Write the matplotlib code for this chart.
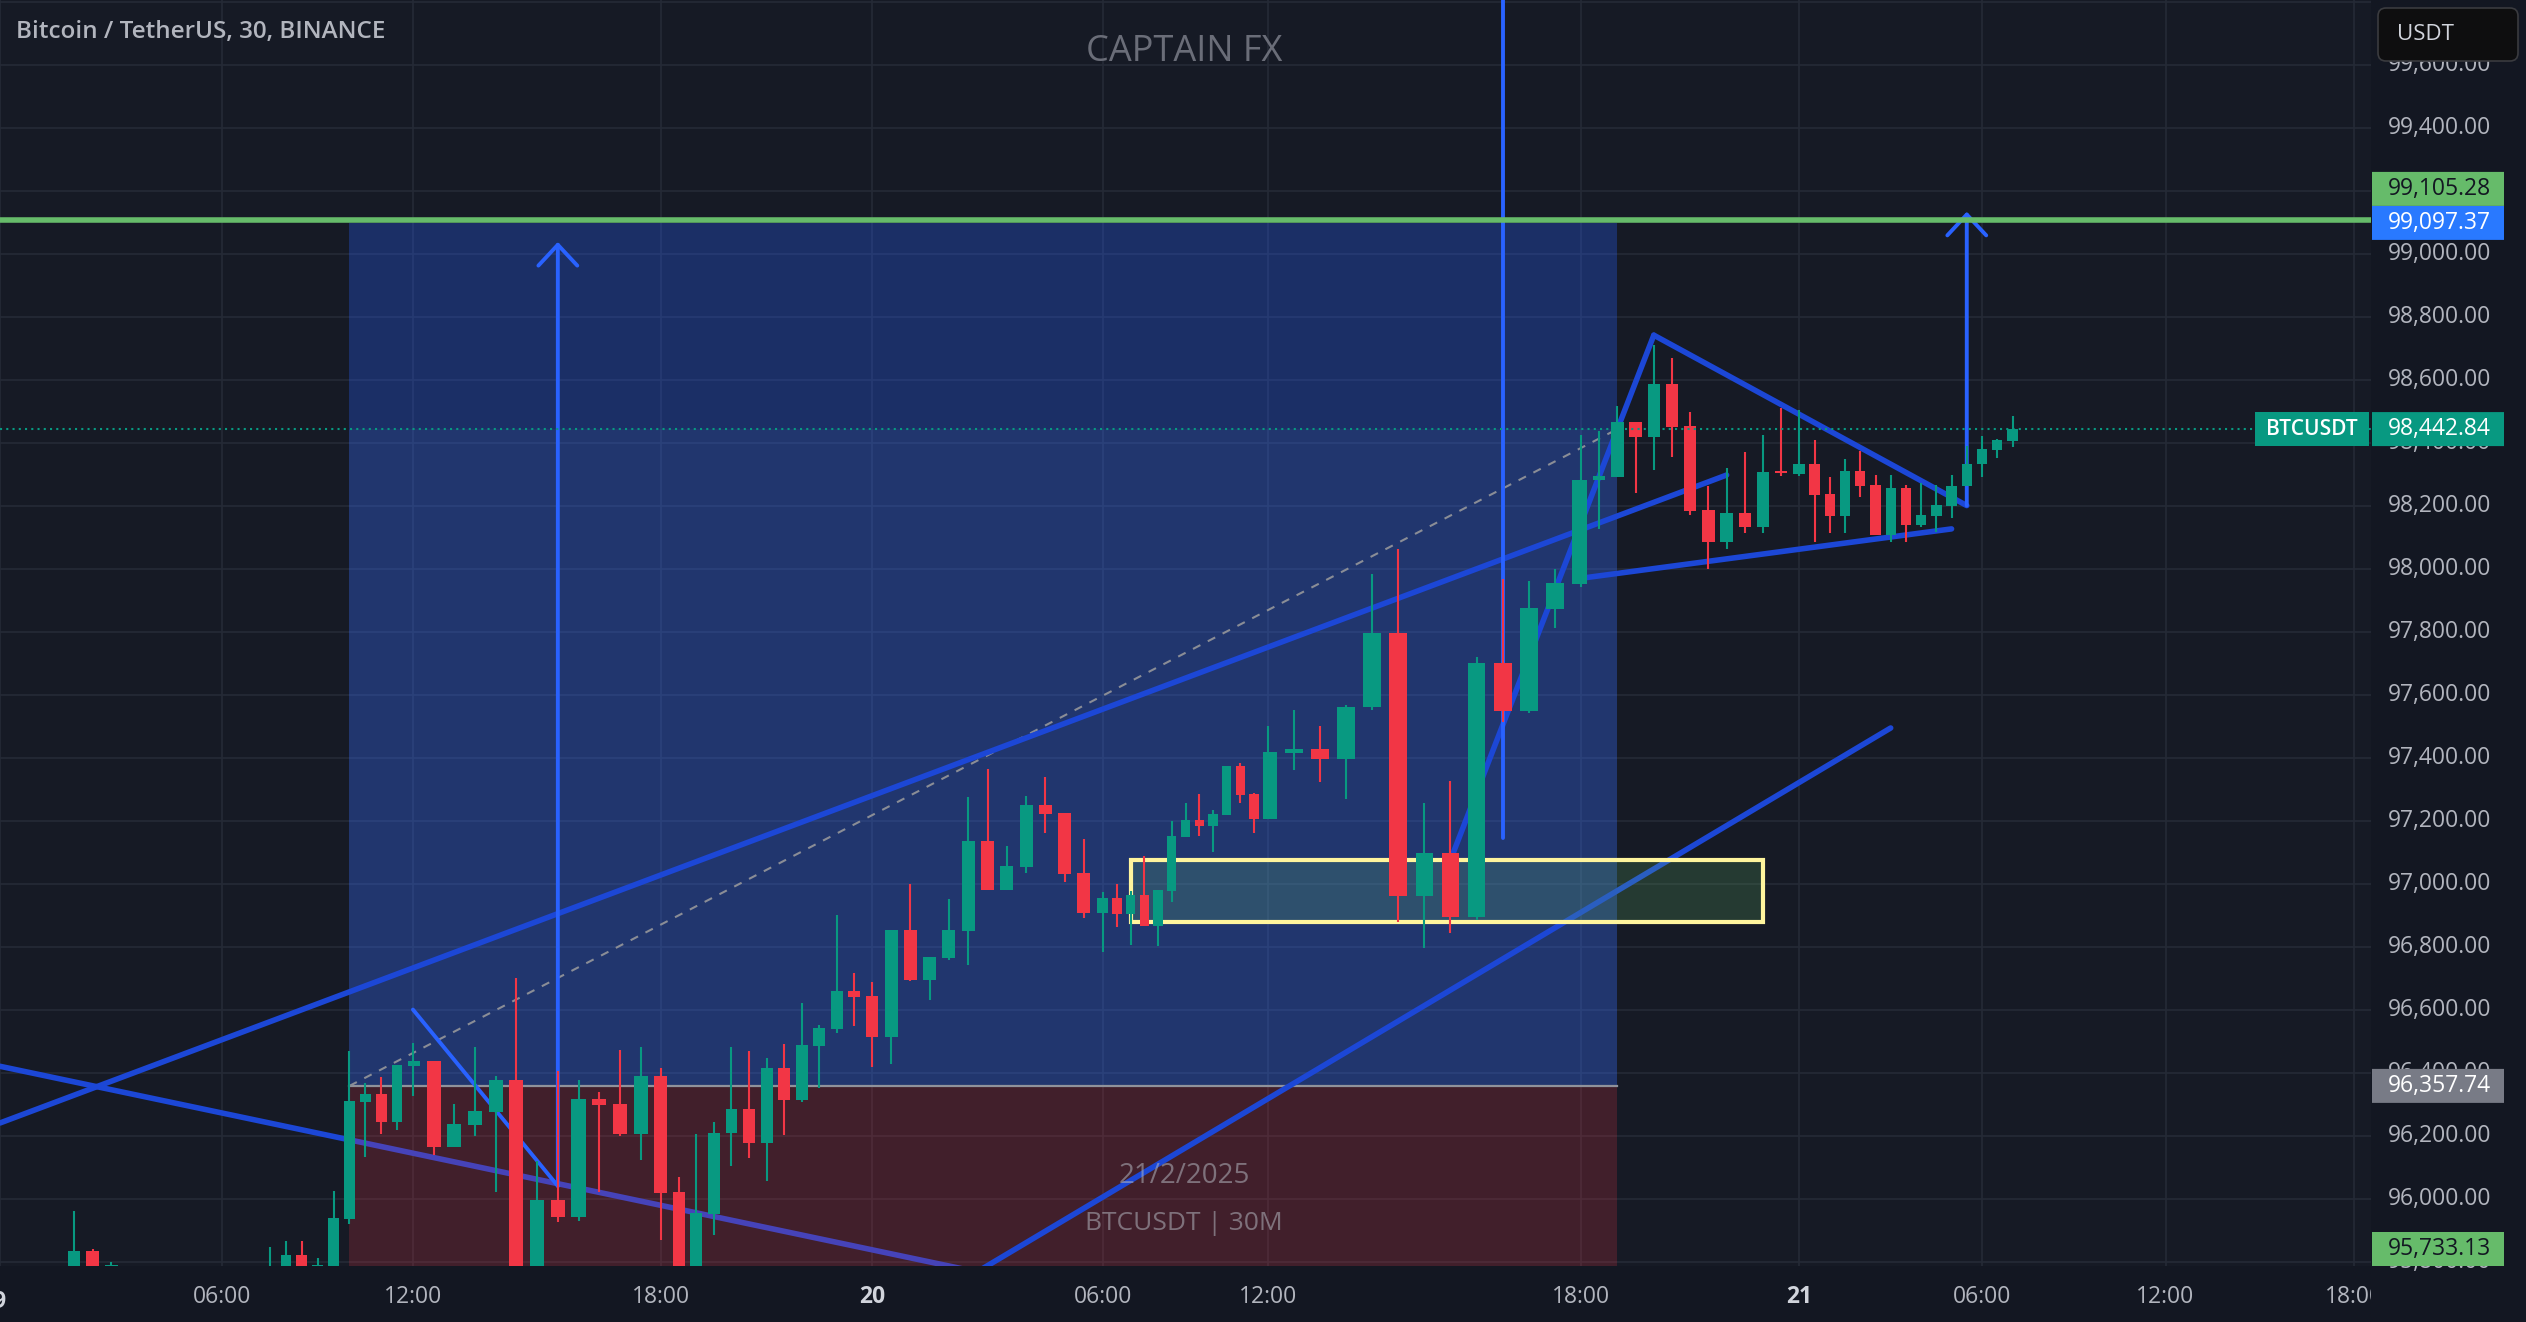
import numpy as np
import matplotlib
matplotlib.use("Agg")
import matplotlib.pyplot as plt
from matplotlib.patches import Rectangle, FancyBboxPatch
from matplotlib.transforms import IdentityTransform, blended_transform_factory

plt.rcParams['font.family'] = ['Open Sans', 'DejaVu Sans']

# ---------------- data (hours since 2025-02-19 00:00, 30m candles) ----------------
times = [2.0, 2.5, 3.0, 7.5, 8.0, 8.5, 9.0, 9.5, 10.0, 10.5, 11.0, 11.5, 12.0, 12.5, 13.0,
         13.5, 14.0, 14.5, 15.0, 15.5, 16.0, 16.5, 17.0, 17.5, 18.0, 18.5, 19.0, 19.5, 20.0,
         20.5, 21.0, 21.5, 22.0, 22.5, 23.0, 23.5, 24.0, 24.5, 25.0, 25.5, 26.0, 26.5, 27.0,
         27.5, 28.0, 28.5, 29.0, 29.5, 30.0, 30.5, 31.0, 31.5, 32.0, 32.5, 33.0, 33.5, 34.0,
         34.5, 35.0, 35.5, 36.0, 36.5, 37.0, 37.5, 38.0, 38.5, 39.0, 39.5, 40.0, 40.5, 41.0,
         41.5, 42.0, 42.5, 43.0, 43.5, 44.0, 44.5, 45.0, 45.5, 46.0, 46.5, 47.0, 47.5, 48.0,
         48.5, 49.0, 49.5, 50.0, 50.5, 51.0, 51.5, 52.0, 52.5, 53.0, 53.5, 54.0, 54.5, 55.0]
opens = [95700, 95834, 95780, 95700, 95760, 95821, 95770, 95760, 95936, 96308, 96332, 96243,
         96421, 96437, 96164, 96233, 96275, 96376, 95700, 95996, 95943, 96316, 96300, 96205,
         96389, 96020, 95740, 95950, 96208, 96284, 96176, 96414, 96314, 96483, 96539, 96660,
         96643, 96512, 96852, 96695, 96765, 96849, 97135, 96980, 97054, 97249, 97224, 97034,
         96908, 96953, 96905, 96965, 96865, 96975, 97148, 97202, 97184, 97219, 97373, 97285,
         97206, 97416, 97427, 97394, 97559, 97796, 96960, 97097, 96894, 97700, 97549, 97873,
         97952, 98280, 98292, 98466, 98419, 98586, 98453, 98186, 98084, 98177, 98132, 98310,
         98300, 98332, 98237, 98167, 98310, 98265, 98107, 98256, 98138, 98167, 98200, 98261,
         98331, 98378, 98406]
highs = [95960, 95840, 95800, 95846, 95865, 95865, 95812, 96024, 96468, 96366, 96386, 96424,
         96494, 96437, 96300, 96481, 96389, 96700, 96119, 96405, 96376, 96338, 96471, 96481,
         96414, 96068, 96205, 96243, 96481, 96468, 96446, 96490, 96620, 96551, 96900, 96716,
         96687, 96852, 96999, 96768, 96951, 97275, 97364, 97119, 97278, 97338, 97224, 97142,
         96972, 96999, 96975, 97087, 96980, 97199, 97256, 97285, 97234, 97373, 97383, 97289,
         97500, 97551, 97500, 97567, 97983, 98062, 97256, 97326, 97719, 97967, 97961, 97999,
         98424, 98437, 98517, 98466, 98710, 98669, 98497, 98262, 98319, 98370, 98424, 98510,
         98503, 98408, 98291, 98348, 98373, 98297, 98297, 98265, 98272, 98265, 98297, 98389,
         98421, 98411, 98484]
lows = [95650, 95650, 95700, 95650, 95700, 95700, 95760, 95740, 95920, 96133, 96206, 96218,
        96326, 96139, 96164, 96199, 96021, 95650, 95650, 95925, 95930, 96022, 96199, 96123,
        95868, 95700, 95700, 95884, 96104, 96129, 96057, 96202, 96308, 96350, 96525, 96549,
        96418, 96427, 96692, 96629, 96759, 96740, 96980, 96980, 97035, 97162, 97006, 96892,
        96783, 96861, 96806, 96865, 96802, 96940, 97148, 97152, 97099, 97219, 97257, 97159,
        97206, 97362, 97321, 97270, 97550, 96879, 96795, 96844, 96883, 97514, 97543, 97810,
        97943, 98127, 98292, 98241, 98313, 98355, 98170, 97999, 98062, 98113, 98113, 98294,
        98294, 98084, 98113, 98113, 98227, 98107, 98084, 98084, 98132, 98116, 98159, 98261,
        98292, 98352, 98387]
closes = [95834, 95700, 95790, 95760, 95821, 95760, 95790, 95938, 96310, 96332, 96243, 96424,
          96437, 96164, 96236, 96278, 96376, 95700, 95997, 95943, 96316, 96298, 96205, 96389,
          96019, 95740, 95953, 96208, 96284, 96176, 96414, 96314, 96487, 96542, 96660, 96641,
          96512, 96852, 96695, 96768, 96852, 97135, 96980, 97056, 97249, 97222, 97031, 96908,
          96953, 96905, 96965, 96865, 96980, 97151, 97202, 97184, 97221, 97373, 97282, 97206,
          97418, 97427, 97394, 97561, 97796, 96960, 97097, 96894, 97700, 97549, 97875, 97954,
          98282, 98294, 98466, 98419, 98586, 98450, 98183, 98084, 98177, 98132, 98307, 98304,
          98332, 98234, 98167, 98310, 98262, 98107, 98256, 98138, 98170, 98202, 98262, 98332,
          98380, 98408, 98442.84]

x_tick_hours = [6, 12, 18, 24, 30, 36, 42, 48, 54, 60, 66]
x_tick_labels = ['06:00', '12:00', '18:00', '20', '06:00', '12:00', '18:00', '21',
                 '06:00', '12:00', '18:00']
day_labels = ['20', '21']
price_ticks = list(range(95800, 100000, 200))
price_labels_shown = list(range(95800, 99800, 200))

# position tool
entry_price = 96357.74
target_price = 99097.37
stop_price = 95733.13
last_price = 98442.84
green_level = 99105.28
position_span = (10.0, 43.0)

# drawings (time, price anchors)
trend_a = [(0.0, 96240), (46.0, 98297)]
trend_b = [(0.0, 96420), (27.4, 95750)]
trend_c = [(12.0, 96600), (15.5, 96040)]
trend_d = [(26.3, 95736), (51.0, 97494)]
trend_e = [(39.5, 97075), (44.0, 98741)]
trend_f = [(44.0, 98741), (53.5, 98200)]
trend_g = [(41.9, 97967), (53.0, 98126)]
vline_2 = [(40.5, 97144), (40.5, 100300)]
arrow_1 = [(15.5, 96040), (15.5, 99037)]
arrow_3 = [(53.5, 98200), (53.5, 99133)]
zone_rect = [(31.0, 96879), (47.0, 97076)]

# ---------------- layout ----------------
W, H = 2526, 1322
PR = 2371   # right edge of plot (px)
PB = 1266   # bottom edge of plot (px)
BG = '#161A25'
BG_AX = '#131722'
GRID = '#252A36'
TXT = '#B2B5BE'
UP = '#089981'
DOWN = '#F23645'
TL = '#1C47D6'
BRIGHT = '#2962FF'

# time axis of the screenshot is not uniform: map tick times to their screen positions
anchor_h = [-100, 0, 6, 12, 18, 24, 30, 36, 42, 48, 54, 60, 66, 200]
anchor_p = [-3723, -6, 217, 408, 657, 868, 1100, 1265, 1579, 1798, 1981, 2165, 2354, 6575]


def fwd(h):
    return np.interp(h, anchor_h, anchor_p)


def inv(p):
    return np.interp(p, anchor_p, anchor_h)


fig = plt.figure(figsize=(W / 100, H / 100), dpi=100)
fig.patch.set_facecolor(BG_AX)
ax = fig.add_axes([0, (H - PB) / H, PR / W, PB / H])
ax.set_facecolor(BG)
for s in ax.spines.values():
    s.set_visible(False)
ax.set_xscale('function', functions=(fwd, inv))
ax.set_xlim(float(inv(0.0)), float(inv(PR)))
ax.set_ylim(95786, 99805)

ax.set_xticks([0] + x_tick_hours)
ax.set_xticklabels([''] + x_tick_labels)
ax.set_yticks(price_ticks)
ax.tick_params(axis='y', length=0, labelleft=False)
ax.tick_params(axis='x', length=0, pad=13.5, labelsize=16.5, labelcolor=TXT)
for lab in ax.get_xticklabels():
    if lab.get_text() in day_labels:
        lab.set_fontweight('bold')
        lab.set_color('#D1D4DC')
ax.set_axisbelow(True)
ax.grid(True, color=GRID, lw=1.2)

# partially hidden "19" day label at the left edge
fig.text(-6 / W, 1 - 1302 / H, '19', fontsize=16.5, fontweight='bold', color='#D1D4DC',
         ha='center', va='center')

# ---- trend line below position zone
ax.plot(*zip(*trend_b), color=TL, lw=4, solid_capstyle='round', zorder=1)

# ---- position tool zones
x0, x1 = position_span
ax.add_patch(Rectangle((x0, entry_price), x1 - x0, target_price - entry_price,
                       facecolor='#2962FF', alpha=0.30, lw=0, zorder=2))
ax.add_patch(Rectangle((x0, entry_price), x1 - x0, last_price - entry_price,
                       facecolor='#6F95D8', alpha=0.08, lw=0, zorder=2))
ax.add_patch(Rectangle((x0, stop_price), x1 - x0, entry_price - stop_price,
                       facecolor=DOWN, alpha=0.20, lw=0, zorder=2))
ax.plot([x0, x1], [entry_price, entry_price], color='#8F929B', lw=1.6, zorder=2.2)
ax.plot([x0, x1], [entry_price, last_price], color='#8A8D96', lw=1.5,
        linestyle=(0, (4, 4)), zorder=2.2)

# ---- other trend lines
for seg in (trend_a, trend_d, trend_e, trend_f, trend_g):
    ax.plot(*zip(*seg), color=TL, lw=4, solid_capstyle='round', zorder=2.6)

# ---- yellow zone rectangle
(rx0, ry0), (rx1, ry1) = zone_rect
ax.add_patch(Rectangle((rx0, ry0), rx1 - rx0, ry1 - ry0, facecolor='#66BB6A', alpha=0.2,
                       lw=0, zorder=3))
ax.add_patch(Rectangle((rx0, ry0), rx1 - rx0, ry1 - ry0, facecolor='none',
                       edgecolor='#FFF59D', lw=3, zorder=3.1))

# ---- bright lines and arrows
ax.plot(*zip(*trend_c), color=BRIGHT, lw=2.8, solid_capstyle='round', zorder=3.5)
ax.plot(*zip(*vline_2), color=BRIGHT, lw=2.8, solid_capstyle='round', zorder=3.5)
for arr in (arrow_1, arrow_3):
    ax.annotate('', xy=arr[1], xytext=arr[0],
                arrowprops=dict(arrowstyle='->,head_length=1.5,head_width=1.4',
                                color=BRIGHT, lw=2.8, shrinkA=0, shrinkB=0,
                                mutation_scale=10, capstyle='round', joinstyle='round'),
                zorder=3.5)

# ---- candles
o = np.array(opens, dtype=float)
c = np.array(closes, dtype=float)
hi = np.array(highs, dtype=float)
lo = np.array(lows, dtype=float)
cols = [UP if cc >= oo else DOWN for oo, cc in zip(o, c)]
bottoms = np.minimum(o, c)
heights = np.maximum(np.abs(c - o), 4)
ax.vlines(times, lo, hi, colors=cols, lw=1.5, zorder=3.9)
ax.bar(times, heights, bottom=bottoms, width=0.34, color=cols, lw=0, zorder=4)

# ---- horizontal levels
ax.axhline(green_level, color='#66BB6A', lw=4, zorder=5)
ax.axhline(last_price, color=UP, lw=1.5, linestyle=(0, (1, 2)), zorder=5)

# symbol label on the chart, right edge
btr = blended_transform_factory(ax.transAxes, ax.transData)
ppx = (99805 - 95786) / PB
ax.add_patch(Rectangle((2255 / PR, last_price - 17 * ppx), (2369 - 2255) / PR, 34 * ppx,
                       transform=btr, facecolor=UP, lw=0, zorder=6, clip_on=False))
ax.text((2255 + 2369) / 2 / PR, last_price, 'BTCUSDT', transform=btr, color='white',
        fontsize=15, fontweight='semibold', ha='center', va='center', zorder=7)

# ---- texts
fig.text(16 / W, 1 - 32 / H, 'Bitcoin / TetherUS, 30, BINANCE', fontsize=17.5,
         fontweight='semibold', color=TXT, ha='left', va='center')
fig.text(1184 / W, 1 - 52 / H, 'CAPTAIN FX', fontsize=26, color='#6A6D78',
         ha='center', va='center')
fig.text(1184 / W, 1 - 1176 / H, '21/2/2025', fontsize=20, color='#B2B5BE', alpha=0.55,
         ha='center', va='center')
fig.text(1184 / W, 1 - 1223 / H, 'BTCUSDT | 30M', fontsize=19, color='#B2B5BE', alpha=0.55,
         ha='center', va='center')

# ---- price scale panel
ax2 = fig.add_axes([PR / W, 0, (W - PR) / W, 1])
ax2.set_facecolor(BG_AX)
for s in ax2.spines.values():
    s.set_visible(False)
ax2.set_xticks([])
ax2.set_yticks([])
ax2.set_xlim(0, 1)
ax2.set_ylim(95786 - (H - PB) * ppx, 99805)
ptr = blended_transform_factory(ax2.transAxes, ax2.transData)
for p in price_labels_shown:
    ax2.text(17 / 155, p, f'{p:,.2f}', transform=ptr, fontsize=16.5, color=TXT,
             ha='left', va='center')

box_h = 34 * ppx
boxes = [
    (target_price, target_price, '#2979FF', 'white'),
    (green_level, target_price + box_h, '#66BB6A', '#131722'),
    (last_price, last_price, UP, 'white'),
    (entry_price, entry_price, '#787B86', 'white'),
    (stop_price, max(stop_price, 95786 + box_h / 2), '#66BB6A', '#131722'),
]
for val, ypos, fc, tc in boxes:
    ax2.add_patch(FancyBboxPatch((1 / 155, ypos - box_h / 2), 132 / 155, box_h,
                                 boxstyle='round,pad=0,rounding_size=0.01', transform=ptr,
                                 facecolor=fc, lw=0, zorder=5))
    ax2.text(17 / 155, ypos, f'{val:,.2f}', transform=ptr, fontsize=16.5, color=tc,
             ha='left', va='center', zorder=6)

# currency button
fig.add_artist(FancyBboxPatch((2378, H - 61), 140, 53,
                              boxstyle='round,pad=0,rounding_size=8',
                              transform=IdentityTransform(), facecolor='#0E0E0F',
                              edgecolor='#3A3B3F', lw=1.2, zorder=10))
fig.text(2397 / W, 1 - 34 / H, 'USDT', fontsize=16, color='#D1D4DC', ha='left',
         va='center', zorder=11)

fig.savefig('out.png', dpi=100, facecolor=fig.get_facecolor())
